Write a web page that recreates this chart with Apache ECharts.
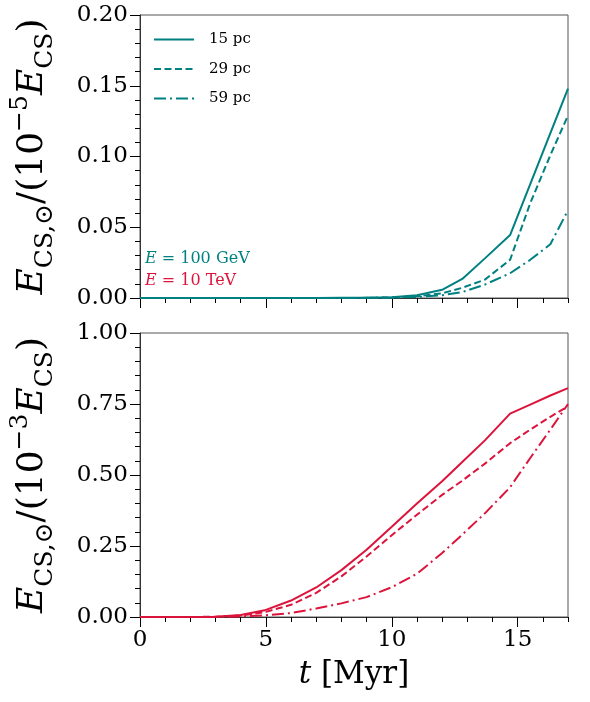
<!DOCTYPE html>
<html>
<head>
<meta charset="utf-8">
<script src="https://cdn.jsdelivr.net/npm/echarts@6/dist/echarts.min.js"></script>
<style>
  html, body { margin: 0; padding: 0; background: #fff; }
  #graf { width: 590px; height: 702px; }
</style>
</head>
<body>
<div id="graf"></div>
<script>
// tiempos de muestreo (Myr), comunes a todas las curvas
const TIEMPO = [0, 1, 2, 3, 4, 5, 6, 7, 8, 9, 10, 11, 12, 12.8, 13.7, 14.7, 15.5, 16.3, 17];
const DISTANCIAS = ['15 pc', '29 pc', '59 pc'];

// E = 100 GeV, en unidades de 1e-5 E_CS
const GEV_15 = [0, 0, 0, 0, 0, 0, 0, 0, 0.0001, 0.0002, 0.0006, 0.002, 0.0058, 0.0135, 0.028, 0.0445, 0.0805, 0.1165, 0.148];
const GEV_29 = [0, 0, 0, 0, 0, 0, 0, 0, 0, 0.0001, 0.0004, 0.0012, 0.0033, 0.0072, 0.013, 0.027, 0.067, 0.101, 0.129];
const GEV_59 = [0, 0, 0, 0, 0, 0, 0, 0, 0, 0.0001, 0.0002, 0.0007, 0.002, 0.0042, 0.0095, 0.0175, 0.027, 0.038, 0.062];

// E = 10 TeV, en unidades de 1e-3 E_CS
const TEV_15 = [0, 0, 0, 0.001, 0.007, 0.025, 0.058, 0.104, 0.165, 0.237, 0.318, 0.4, 0.478, 0.546, 0.622, 0.716, 0.748, 0.78, 0.806];
const TEV_29 = [0, 0, 0, 0.001, 0.005, 0.018, 0.043, 0.085, 0.143, 0.213, 0.288, 0.36, 0.43, 0.48, 0.54, 0.612, 0.66, 0.705, 0.742];
const TEV_59 = [0, 0, 0, 0, 0.002, 0.006, 0.014, 0.03, 0.048, 0.07, 0.105, 0.152, 0.225, 0.29, 0.365, 0.457, 0.56, 0.66, 0.75];

const TICKS_T = [0, 5, 10, 15];

const SERIF = '"DejaVu Serif", serif';
const TEAL = '#008080', CARMESI = '#DC143C', EJE = '#333', BORDE = '#555';
const TRAZOS = ['solid', [7, 3.5], [12, 4, 2, 4]];

const GRIDS = [
  { left: 137, width: 431, top: 15, height: 283 },
  { left: 137, width: 431, top: 333, height: 284 }
];

function pares(vals) { return TIEMPO.map((t, i) => [t, vals[i]]); }

function nombreY(exp) {
  return {
    name: '{e|E}{sub|CS,⊙}{n|/(10}{sup|−' + exp + '}{e|E}{sub|CS}{n|)}',
    nameLocation: 'middle', nameGap: 82,
    nameTextStyle: {
      rich: {
        e: { fontFamily: SERIF, fontStyle: 'italic', fontSize: 36, lineHeight: 50, color: '#000' },
        n: { fontFamily: SERIF, fontSize: 36, lineHeight: 50, color: '#000' },
        sub: { fontFamily: SERIF, fontSize: 25, lineHeight: 28, verticalAlign: 'bottom', color: '#000' },
        sup: { fontFamily: SERIF, fontSize: 25, lineHeight: 30, verticalAlign: 'top', color: '#000' }
      }
    }
  };
}

function ejeY(idx, max, intervalo, exp) {
  return Object.assign({
    type: 'value', gridIndex: idx, min: 0, max: max, interval: intervalo,
    axisLine: { show: true, lineStyle: { color: EJE } },
    axisTick: { show: true, length: 10, lineStyle: { color: '#000' } },
    minorTick: { show: true, splitNumber: 5, length: 5, lineStyle: { color: '#000' } },
    splitLine: { show: false },
    axisLabel: { fontFamily: SERIF, fontSize: 23, color: '#000', margin: 12,
                 formatter: (v) => v.toFixed(2) }
  }, nombreY(exp));
}

function ejeX(idx, etiquetas) {
  const eje = {
    type: 'value', gridIndex: idx, min: 0, max: 17, interval: 5, position: 'bottom',
    axisLine: { show: true, onZero: false, lineStyle: { color: EJE } },
    axisTick: { show: true, length: 10, customValues: TICKS_T, lineStyle: { color: '#000' } },
    splitLine: { show: false },
    axisLabel: { show: etiquetas, customValues: TICKS_T, fontFamily: SERIF, fontSize: 23,
                 color: '#000', margin: 12 }
  };
  if (etiquetas) {
    eje.name = '{i|t} [Myr]';
    eje.nameLocation = 'middle';
    eje.nameGap = 42;
    eje.nameTextStyle = { fontFamily: SERIF, fontSize: 31, color: '#000',
                          rich: { i: { fontFamily: SERIF, fontStyle: 'italic', fontSize: 31, color: '#000' } } };
  }
  return eje;
}

// eje gemelo sólo para las marcas menores de t (cada 1 Myr)
function ejeXMenor(idx) {
  return {
    type: 'value', gridIndex: idx, min: 0, max: 17, interval: 1, position: 'bottom',
    axisLine: { show: false }, axisLabel: { show: false }, splitLine: { show: false },
    axisTick: { show: true, length: 5, lineStyle: { color: '#000' } }
  };
}

function serie(nombre, vals, color, trazo, ejeXi, ejeYi) {
  return {
    type: 'line', name: nombre, data: pares(vals), xAxisIndex: ejeXi, yAxisIndex: ejeYi,
    symbol: 'none', smooth: false, animation: false,
    lineStyle: { color: color, width: 2, type: trazo },
    itemStyle: { color: color }
  };
}

const chart = echarts.init(document.getElementById('graf'), null, { renderer: 'canvas' });
chart.setOption({
  backgroundColor: '#fff',
  animation: false,
  grid: GRIDS.map((g) => Object.assign({ show: true, borderColor: BORDE, borderWidth: 1, backgroundColor: 'transparent' }, g)),
  xAxis: [ejeX(0, false), ejeXMenor(0), ejeX(1, true), ejeXMenor(1)],
  yAxis: [ejeY(0, 0.2, 0.05, '5'), ejeY(1, 1.0, 0.25, '3')],
  legend: {
    data: DISTANCIAS, orient: 'vertical', left: 153, top: 32, padding: 0,
    itemWidth: 40, itemHeight: 14, itemGap: 14.5,
    itemStyle: { opacity: 0 },
    lineStyle: { width: 2 },
    textStyle: { fontFamily: SERIF, fontSize: 15, color: '#000', padding: [0, 0, 0, 10] }
  },
  graphic: [
    { type: 'text', left: 145, top: 251,
      style: { text: '{i|E} = 100 GeV', fill: TEAL, font: '16px ' + SERIF,
               rich: { i: { fontStyle: 'italic', fontFamily: SERIF, fontSize: 16, fill: TEAL } } } },
    { type: 'text', left: 145, top: 273,
      style: { text: '{i|E} = 10 TeV', fill: CARMESI, font: '16px ' + SERIF,
               rich: { i: { fontStyle: 'italic', fontFamily: SERIF, fontSize: 16, fill: CARMESI } } } }
  ],
  series: [
    serie(DISTANCIAS[0], GEV_15, TEAL, TRAZOS[0], 0, 0),
    serie(DISTANCIAS[1], GEV_29, TEAL, TRAZOS[1], 0, 0),
    serie(DISTANCIAS[2], GEV_59, TEAL, TRAZOS[2], 0, 0),
    serie('10 TeV 15 pc', TEV_15, CARMESI, TRAZOS[0], 2, 1),
    serie('10 TeV 29 pc', TEV_29, CARMESI, TRAZOS[1], 2, 1),
    serie('10 TeV 59 pc', TEV_59, CARMESI, TRAZOS[2], 2, 1)
  ]
});
</script>
</body>
</html>
